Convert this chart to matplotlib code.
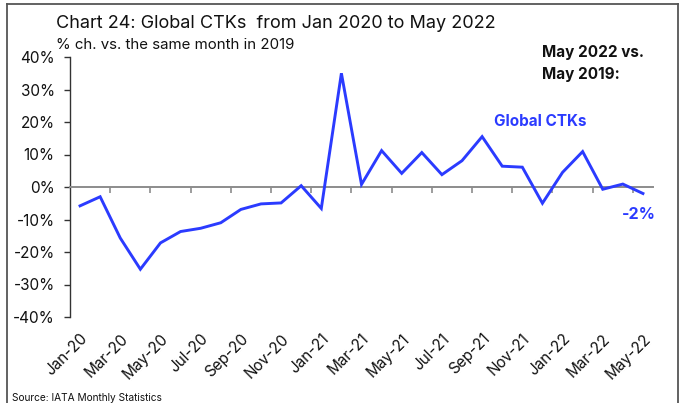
import matplotlib
matplotlib.use('Agg')
import matplotlib.pyplot as plt
import numpy as np

# --- data: global CTKs, % change vs. the same month in 2019 ---
months = ['Jan-20', 'Feb-20', 'Mar-20', 'Apr-20', 'May-20', 'Jun-20', 'Jul-20',
          'Aug-20', 'Sep-20', 'Oct-20', 'Nov-20', 'Dec-20',
          'Jan-21', 'Feb-21', 'Mar-21', 'Apr-21', 'May-21', 'Jun-21', 'Jul-21',
          'Aug-21', 'Sep-21', 'Oct-21', 'Nov-21', 'Dec-21',
          'Jan-22', 'Feb-22', 'Mar-22', 'Apr-22', 'May-22']
ctk_growth = [-5.8, -3.0, -15.7, -25.3, -17.2, -13.7, -12.7, -11.0, -6.9, -5.2,
              -4.9, 0.4, -6.6, 35.0, 0.8, 11.2, 4.2, 10.6, 3.8, 8.1, 15.5, 6.4,
              6.1, -5.0, 4.5, 10.9, -0.7, 0.9, -2.0]
y_ticks = [-40, -30, -20, -10, 0, 10, 20, 30, 40]

BLUE = '#2B3BFF'
AXIS_GREY = '#8C8C8C'
TEXT = '#111111'
FONT = 'Inter'

plt.rcParams.update({
    'font.family': [FONT, 'DejaVu Sans'],
    'font.size': 11,
    'text.color': TEXT,
})

W, H = 683, 403
fig = plt.figure(figsize=(W / 100, H / 100), dpi=100)
fig.patch.set_facecolor('white')


def px(x, y):
    """Pixel position -> figure fraction."""
    return x / W, 1 - y / H


ax = fig.add_axes([70 / W, 1 - 317 / H, (653 - 70) / W, (317 - 57) / H])
ax.set_facecolor('none')

x = np.arange(len(months))
ax.plot(x, ctk_growth, color=BLUE, lw=2.1, solid_joinstyle='miter', zorder=3)

ax.set_xlim(-0.5, len(months) - 0.5)
ax.set_ylim(-40, 40)
ax.set_yticks(y_ticks)
ax.set_yticklabels([f'{v}%' for v in y_ticks])

# zero line acts as the category axis, ticks between every second month
for side in ('top', 'right'):
    ax.spines[side].set_visible(False)
ax.spines['bottom'].set_position(('data', 0))
ax.spines['bottom'].set_color(AXIS_GREY)
ax.spines['bottom'].set_linewidth(1.4)
ax.spines['left'].set_color('#333333')
ax.spines['left'].set_linewidth(1.0)
ax.set_xticks([])
ax.set_xticks(np.arange(1.5, len(months) - 1, 2), minor=True)
ax.tick_params(axis='x', which='minor', direction='out', length=4,
               width=1.2, color=AXIS_GREY, labelbottom=False)
ax.tick_params(axis='y', direction='out', length=4, width=1.0,
               color='#333333', pad=7, labelsize=11, labelcolor=TEXT)
ax.grid(False)

# month labels along the bottom of the plot area
sec = ax.secondary_xaxis(0)
sec.set_xticks(x[::2])
sec.set_xticklabels(months[::2], rotation=45, ha='right',
                    rotation_mode='anchor', fontsize=11, color=TEXT)
sec.tick_params(length=0, pad=10)
sec.spines['bottom'].set_visible(False)

# annotations
ax.text(22.9, 20.3, 'Global CTKs', color=BLUE, fontsize=11,
        fontweight='bold', ha='center', va='center')
ax.text(27.8, -8.6, '-2%', color=BLUE, fontsize=11.5,
        fontweight='bold', ha='center', va='center')

fig.text(*px(56, 28), 'Chart 24: Global CTKs  from Jan 2020 to May 2022',
         fontsize=13, va='baseline', ha='left')
fig.text(*px(56, 49), '% ch. vs. the same month in 2019',
         fontsize=10.8, va='baseline', ha='left')
fig.text(*px(542, 57.5), 'May 2022 vs.', fontsize=11, fontweight='bold',
         va='baseline', ha='left')
fig.text(*px(542, 79), 'May 2019:', fontsize=11, fontweight='bold',
         va='baseline', ha='left')
fig.text(*px(12, 401), 'Source: IATA Monthly Statistics', fontsize=7.3,
         va='baseline', ha='left')

# panel frame (left, top, right)
frame = dict(color='#555555', lw=1.3, transform=fig.transFigure)
fig.add_artist(plt.Line2D([7 / W, 7 / W], [0, 1 - 3.5 / H], **frame))
fig.add_artist(plt.Line2D([7 / W, 678 / W], [1 - 3.5 / H, 1 - 3.5 / H], **frame))
fig.add_artist(plt.Line2D([678 / W, 678 / W], [0, 1 - 3.5 / H], **frame))

fig.savefig('out.png', dpi=100, facecolor='white')
plt.close(fig)
